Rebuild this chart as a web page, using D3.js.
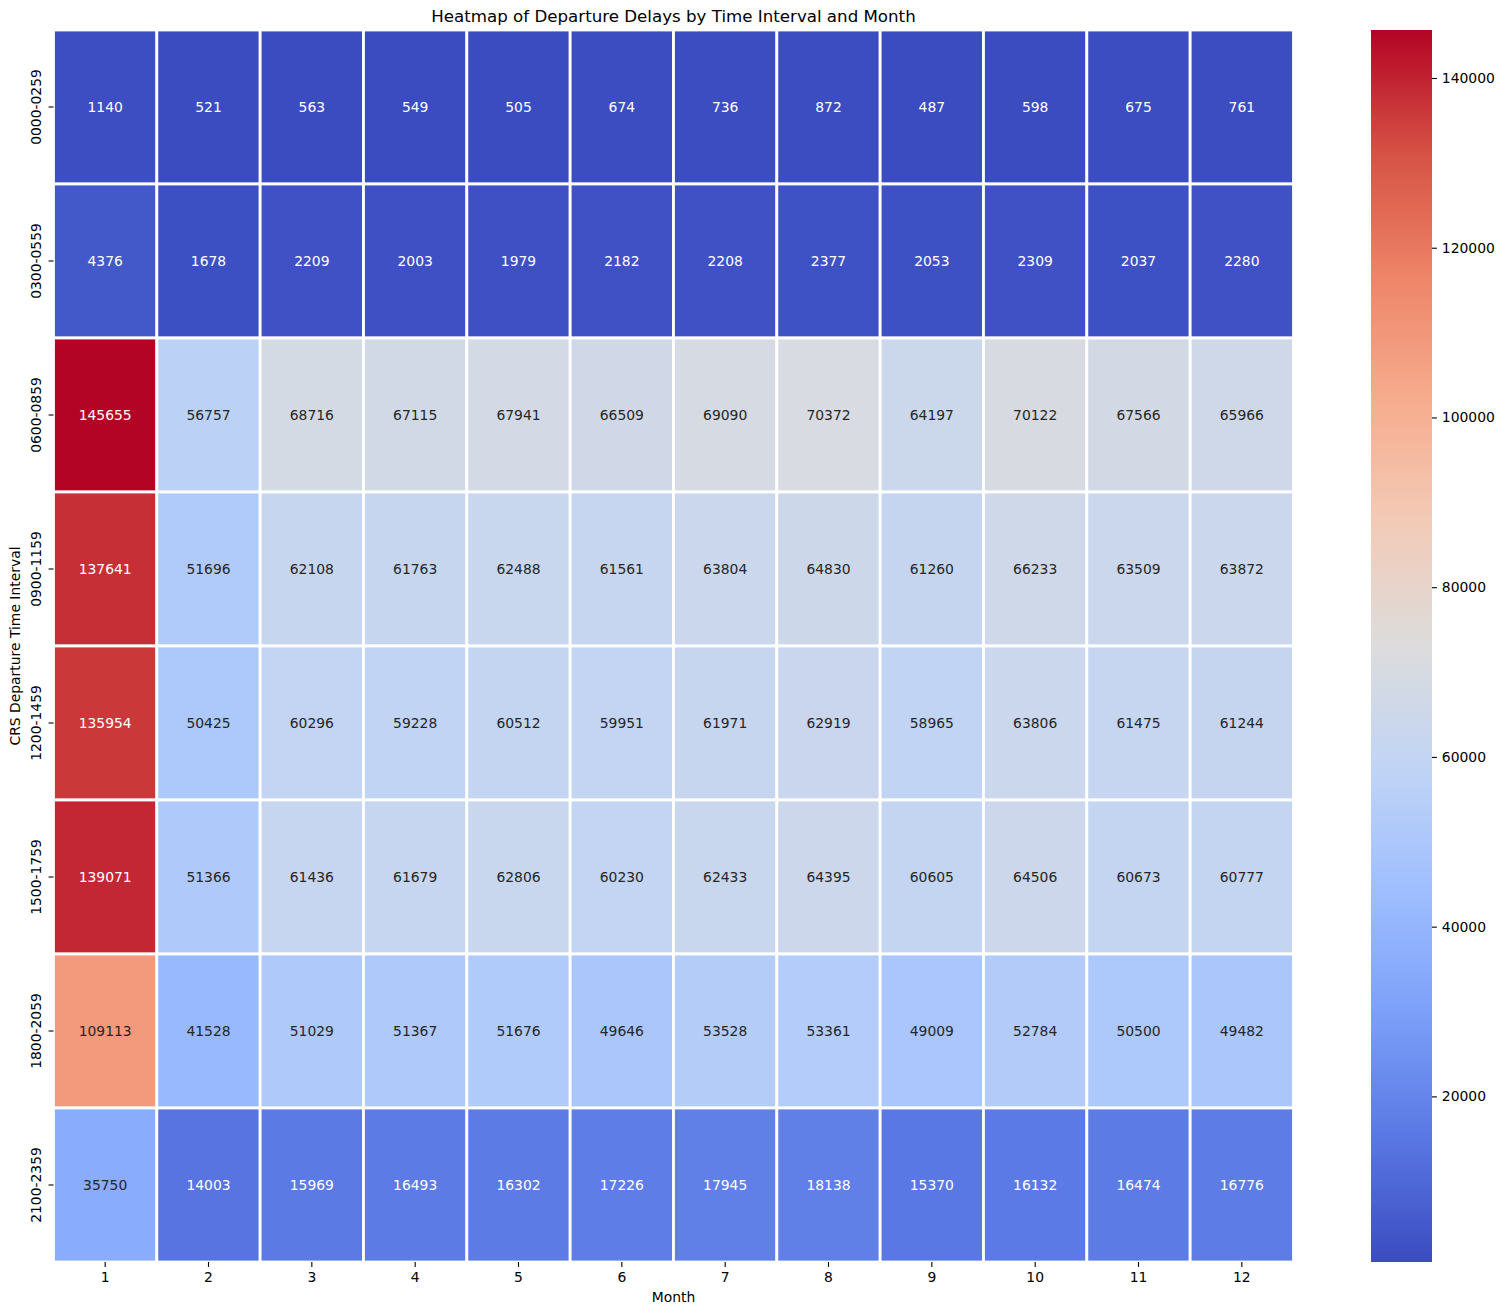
<!DOCTYPE html>
<html>
<head>
<meta charset="utf-8">
<script src="https://cdn.jsdelivr.net/npm/d3@7"></script>
<style>
  body { margin: 0; background: #fff; }
  text { font-family: "DejaVu Sans", sans-serif; }
</style>
</head>
<body>
<svg id="chart" width="1505" height="1315"></svg>
<script>
const months = ["1","2","3","4","5","6","7","8","9","10","11","12"];
const intervals = ["0000-0259","0300-0559","0600-0859","0900-1159","1200-1459","1500-1759","1800-2059","2100-2359"];
const r0000 = [1140,521,563,549,505,674,736,872,487,598,675,761];
const r0300 = [4376,1678,2209,2003,1979,2182,2208,2377,2053,2309,2037,2280];
const r0600 = [145655,56757,68716,67115,67941,66509,69090,70372,64197,70122,67566,65966];
const r0900 = [137641,51696,62108,61763,62488,61561,63804,64830,61260,66233,63509,63872];
const r1200 = [135954,50425,60296,59228,60512,59951,61971,62919,58965,63806,61475,61244];
const r1500 = [139071,51366,61436,61679,62806,60230,62433,64395,60605,64506,60673,60777];
const r1800 = [109113,41528,51029,51367,51676,49646,53528,53361,49009,52784,50500,49482];
const r2100 = [35750,14003,15969,16493,16302,17226,17945,18138,15370,16132,16474,16776];
const rows = [r0000,r0300,r0600,r0900,r1200,r1500,r1800,r2100];
const colorbarTicks = [20000,40000,60000,80000,100000,120000,140000];

const cells = [];
rows.forEach((r,i)=>r.forEach((v,j)=>cells.push({row:intervals[i], col:months[j], v})));

const svg = d3.select("#chart");
const L = 53.5, R = 1293.5, T = 30, B = 1262;

const x = d3.scaleBand().domain(months).range([L,R]).padding(0);
const y = d3.scaleBand().domain(intervals).range([T,B]).padding(0);

const vmin = d3.min(cells, d=>d.v), vmax = d3.max(cells, d=>d.v);
const cw = ["#3b4cc0","#5977e3","#7b9ff9","#9ebeff","#c0d4f5","#dddcdc","#f2cbb7","#f7ac8e","#ee8468","#d65244","#b40426"];
const cwInterp = d3.interpolateRgbBasis ? null : null;
const cwScale = d3.scaleLinear().domain(d3.range(11).map(i=>i/10)).range(cw).interpolate(d3.interpolateRgb).clamp(true);
const norm = d3.scaleLinear().domain([vmin,vmax]).range([0,1]);
const color = v => cwScale(norm(v));

function lum(c){
  const rgb = d3.rgb(c);
  const f = u => { u/=255; return u <= 0.03928 ? u/12.92 : Math.pow((u+0.055)/1.055,2.4); };
  return 0.2126*f(rgb.r)+0.7152*f(rgb.g)+0.0722*f(rgb.b);
}

const g = svg.append("g");
g.selectAll("rect.cell").data(cells).join("rect")
  .attr("class","cell")
  .attr("x", d=>x(d.col)).attr("y", d=>y(d.row))
  .attr("width", x.bandwidth()).attr("height", y.bandwidth())
  .attr("fill", d=>color(d.v))
  .attr("stroke","#fff").attr("stroke-width",2.8);

g.selectAll("text.ann").data(cells).join("text")
  .attr("class","ann")
  .attr("x", d=>x(d.col)+x.bandwidth()/2)
  .attr("y", d=>y(d.row)+y.bandwidth()/2)
  .attr("text-anchor","middle").attr("dominant-baseline","central")
  .attr("font-size","13.9px")
  .attr("fill", d=> lum(color(d.v)) > 0.408 ? "#262626" : "#ffffff")
  .text(d=>d.v);

// X axis
const xAxis = svg.append("g").attr("transform",`translate(0,${B})`)
  .call(d3.axisBottom(x).tickSize(4.9).tickPadding(4.9));
xAxis.select(".domain").remove();
xAxis.selectAll("text").attr("font-size","13.9px").attr("fill","#000").attr("font-family","DejaVu Sans");
xAxis.selectAll("line").attr("stroke","#000").attr("stroke-width",1.1);

// Y axis
const yAxis = svg.append("g").attr("transform",`translate(${L},0)`)
  .call(d3.axisLeft(y).tickSize(4.9).tickPadding(4.9));
yAxis.select(".domain").remove();
yAxis.selectAll("line").attr("stroke","#000").attr("stroke-width",1.1);
yAxis.selectAll("text")
  .attr("font-size","13.9px").attr("fill","#000").attr("font-family","DejaVu Sans")
  .attr("text-anchor","middle").attr("dy",null).attr("dominant-baseline","auto")
  .attr("x",0).attr("y",0)
  .attr("transform", function(){ return `translate(${-(4.9+4.9+3)},0) rotate(-90)`; });

// Title & labels
svg.append("text").attr("x",(L+R)/2).attr("y",22).attr("text-anchor","middle")
  .attr("font-size","16.67px").attr("fill","#000")
  .text("Heatmap of Departure Delays by Time Interval and Month");
svg.append("text").attr("x",(L+R)/2).attr("y",1302).attr("text-anchor","middle")
  .attr("font-size","13.9px").attr("fill","#000").text("Month");
svg.append("text").attr("transform",`translate(20,${(T+B)/2}) rotate(-90)`).attr("text-anchor","middle")
  .attr("font-size","13.9px").attr("fill","#000").text("CRS Departure Time Interval");

// Colorbar
const cbX = 1371, cbW = 61;
const cy = d3.scaleLinear().domain([vmin,vmax]).range([B,T]);
const defs = svg.append("defs");
const grad = defs.append("linearGradient").attr("id","cbgrad")
  .attr("x1","0").attr("y1","1").attr("x2","0").attr("y2","0");
d3.range(0,101).forEach(i=>{
  grad.append("stop").attr("offset",`${i}%`).attr("stop-color",cwScale(i/100));
});
svg.append("rect").attr("x",cbX).attr("y",T).attr("width",cbW).attr("height",B-T).attr("fill","url(#cbgrad)");
const cAxis = svg.append("g").attr("transform",`translate(${cbX+cbW},0)`)
  .call(d3.axisRight(cy).tickValues(colorbarTicks).tickFormat(d3.format("d")).tickSize(4.9).tickPadding(4.9));
cAxis.select(".domain").remove();
cAxis.selectAll("line").attr("stroke","#000").attr("stroke-width",1.1);
cAxis.selectAll("text").attr("font-size","13.9px").attr("fill","#000").attr("font-family","DejaVu Sans");
</script>
</body>
</html>
